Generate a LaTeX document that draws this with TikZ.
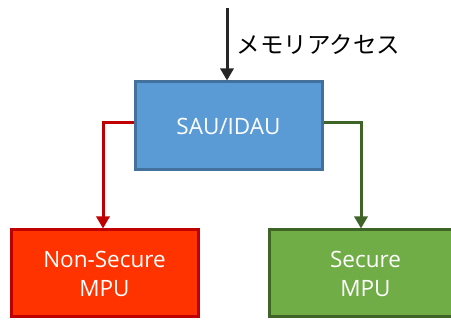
\documentclass[tikz,border=0pt]{standalone}
\usepackage{fontspec}
\setmainfont{Open Sans}
\newfontfamily\jpfont{Noto Sans CJK JP}
\usetikzlibrary{arrows.meta}
\definecolor{saufill}{HTML}{5B9BD5}
\definecolor{saudraw}{HTML}{41719C}
\definecolor{nsfill}{HTML}{FF3300}
\definecolor{nsdraw}{HTML}{C00000}
\definecolor{sfill}{HTML}{70AD47}
\definecolor{sdraw}{HTML}{3F6428}
\definecolor{accessline}{HTML}{262626}
\tikzset{
  unit/.style={draw, line width=3pt, text=white, align=center,
    font=\fontsize{22.5}{29}\selectfont, inner sep=0pt,
    minimum width=187pt, anchor=north west},
  flow/.style={line width=3pt, -{Triangle[length=12pt,width=13pt]}},
}
\begin{document}
\begin{tikzpicture}[x=1pt,y=-1pt]
  \useasboundingbox (0,0) rectangle (451,320);
  % security attribution unit
  \node[unit, fill=saufill, draw=saudraw, minimum height=88pt] (sau) at (133.5,80.5) {SAU/IDAU};
  % the two MPUs
  \node[unit, fill=nsfill, draw=nsdraw, minimum height=87pt] (ns) at (9.5,228.5) {Non-Secure\\MPU};
  \node[unit, fill=sfill, draw=sdraw, minimum height=87pt, minimum width=193pt] (sec) at (267.5,228.5) {Secure\\MPU};
  % incoming access
  \coordinate (in) at (227,8);
  \draw[flow, draw=accessline] (in) -- (in |- sau.north)
    node[pos=0.5, right=5pt, font=\jpfont\fontsize{23.5}{26}\selectfont, text=black]
    {メモリアクセス};
  % routing to the MPUs
  \coordinate (nsturn) at (103,123);
  \coordinate (sturn) at (361,123);
  \draw[flow, draw=nsdraw] (sau.west |- nsturn) -- (nsturn) -- (nsturn |- ns.north);
  \draw[flow, draw=sdraw] (sau.east |- sturn) -- (sturn) -- (sturn |- sec.north);
\end{tikzpicture}
\end{document}
